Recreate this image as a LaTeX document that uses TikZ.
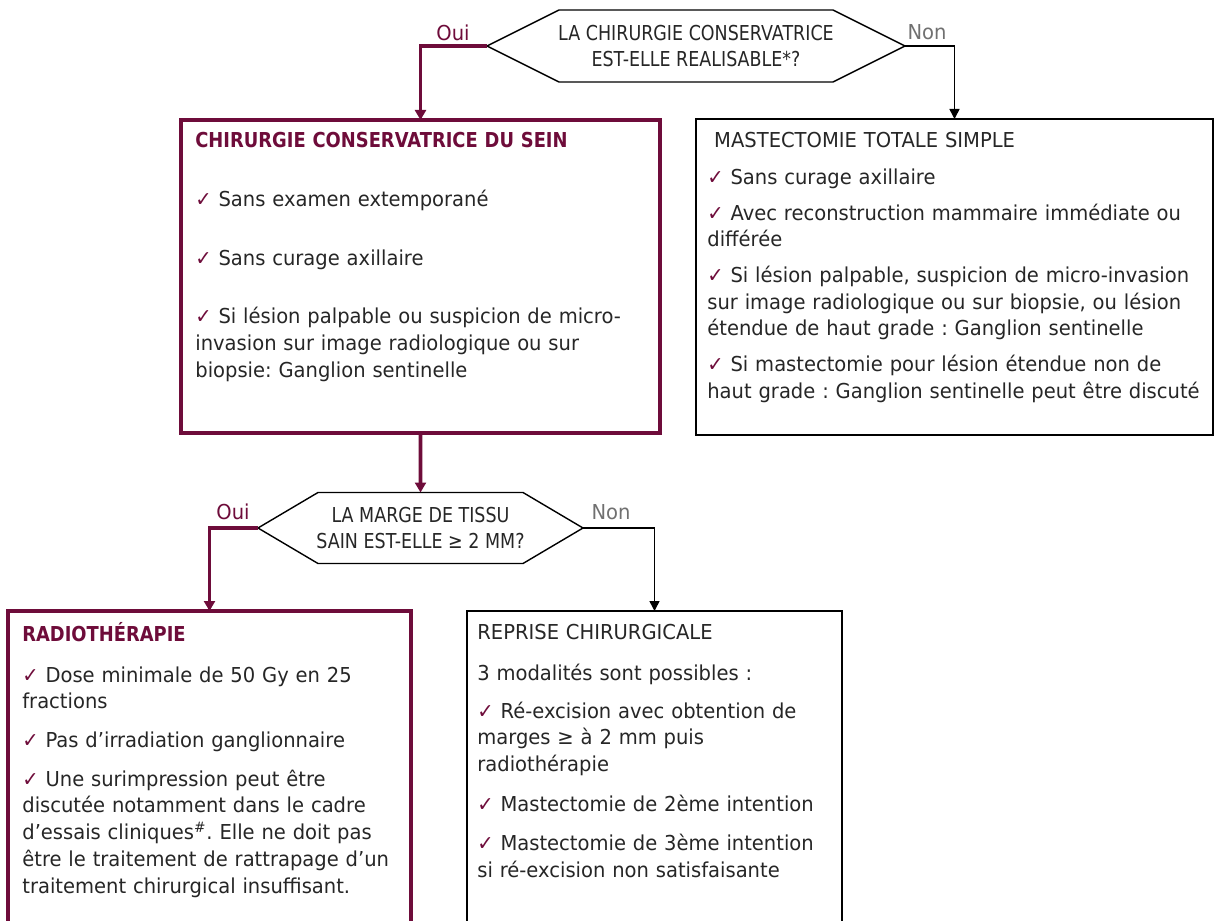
\documentclass[tikz,border=0pt]{standalone}
\usepackage{fontspec}
\setmainfont{DejaVu Sans}[FakeStretch=0.95,BoldFeatures={FakeStretch=0.87}]
\usetikzlibrary{arrows.meta}
\frenchspacing
\definecolor{dred}{RGB}{110,12,58}
\definecolor{txt}{RGB}{38,38,38}
\definecolor{nongray}{RGB}{112,112,112}
\newcommand{\chk}{\textcolor{dred}{✓}\ }
\newcommand{\hexa}[3]{\draw[#3](#1.west)--([xshift=#2]#1.north west)--([xshift=-#2]#1.north east)--(#1.east)--([xshift=-#2]#1.south east)--([xshift=#2]#1.south west)--cycle;}
\tikzset{
  every node/.style={font=\fontsize{11.7}{15.2}\selectfont,text=txt},
  question/.style={rectangle,inner sep=0pt,outer sep=0pt,align=center,font=\fontsize{11.7}{15.2}\selectfont\addfontfeature{FakeStretch=0.85}},
  redbox/.style={draw=dred,line width=2.2pt,inner sep=0pt,outer sep=0pt,anchor=north west},
  blackbox/.style={draw=black,line width=0.9pt,inner sep=0pt,outer sep=0pt,anchor=north west},
  boxtext/.style={anchor=north west,inner sep=0pt,align=left,text width=#1},
  ouiline/.style={draw=dred,line width=2pt,-{Triangle[length=0.2cm,width=0.22cm]}},
  nonline/.style={draw=black,line width=0.9pt,-{Triangle[length=0.2cm,width=0.2cm]}}
}
\begin{document}
\begin{tikzpicture}
                \useasboundingbox (0,0) rectangle (24.32,-18.42);
                \clip (0,0) rectangle (24.32,-18.42);
                \node[question,minimum width=8.36cm,minimum height=1.44cm](q1)at(13.92,-0.92){LA CHIRURGIE CONSERVATRICE\\EST-ELLE REALISABLE*?};
                \hexa{q1}{1.44cm}{line width=0.8pt}
                \node[redbox,minimum width=9.58cm,minimum height=6.26cm](chir)at(3.62,-2.4){};
                \node[blackbox,minimum width=10.34cm,minimum height=6.32cm](mast)at(13.92,-2.38){};
                \node[question,minimum width=6.5cm,minimum height=1.42cm](q2)at(8.41,-10.56){LA MARGE DE TISSU\\SAIN EST-ELLE ≥ 2 MM?};
                \hexa{q2}{1.2cm}{line width=0.8pt}
                \node[redbox,minimum width=8.06cm,minimum height=6.8cm](radio)at(0.16,-12.22){};
                \node[blackbox,minimum width=7.5cm,minimum height=6.8cm](reprise)at(9.34,-12.22){};
                \node(oui1)at(9.06,-0.66){\textcolor{dred}{Oui}};
                \node(non1)at(18.54,-0.64){\textcolor{nongray}{Non}};
                \node(oui2)at(4.66,-10.24){\textcolor{dred}{Oui}};
                \node(non2)at(12.22,-10.24){\textcolor{nongray}{Non}};
                \draw[ouiline](q1.west)-|(chir.north);
                \draw[nonline](q1.east)-|(mast.north);
                \draw[ouiline](chir.south)--(q2.north);
                \draw[ouiline](q2.west)-|(radio.north);
                \draw[nonline](q2.east)-|(reprise.north);
                \node[boxtext=9.3cm](chirtxt)at(3.9,-2.64){\textbf{\textcolor{dred}{CHIRURGIE CONSERVATRICE DU SEIN}}\\[0.64cm]
                    \chk Sans examen extemporané\\[0.64cm]
                    \chk Sans curage axillaire\\[0.64cm]
                    \chk Si lésion palpable ou suspicion de micro-\\invasion sur image radiologique ou sur\\biopsie: Ganglion sentinelle};
                \node[boxtext=10.1cm](masttxt)at(14.14,-2.64){\ MASTECTOMIE TOTALE SIMPLE\\[0.2cm]
                    \chk Sans curage axillaire\\[0.18cm]
                    \chk Avec reconstruction mammaire immédiate ou\\différée\\[0.18cm]
                    \chk Si lésion palpable, suspicion de micro-invasion\\sur image radiologique ou sur biopsie, ou lésion\\étendue de haut grade : Ganglion sentinelle\\[0.18cm]
                    \chk Si mastectomie pour lésion étendue non de\\haut grade : Ganglion sentinelle peut être discuté};
                \node[boxtext=7.8cm](radiotxt)at(0.44,-12.44){\textbf{\textcolor{dred}{RADIOTHÉRAPIE}}\\[0.28cm]
                    \chk Dose minimale de 50 Gy en 25\\fractions\\[0.24cm]
                    \chk Pas d’irradiation ganglionnaire\\[0.24cm]
                    \chk Une surimpression peut être\\discutée notamment dans le cadre\\d’essais cliniques\textsuperscript{\#}. Elle ne doit pas\\être le traitement de rattrapage d’un\\traitement chirurgical insuffisant.};
                \node[boxtext=7.2cm](reprisetxt)at(9.54,-12.48){REPRISE CHIRURGICALE\\[0.28cm]
                    3 modalités sont possibles :\\[0.22cm]
                    \chk Ré-excision avec obtention de\\marges ≥ à 2 mm puis\\radiothérapie\\[0.26cm]
                    \chk Mastectomie de 2ème intention\\[0.26cm]
                    \chk Mastectomie de 3ème intention\\si ré-excision non satisfaisante};
            \end{tikzpicture}
\end{document}
